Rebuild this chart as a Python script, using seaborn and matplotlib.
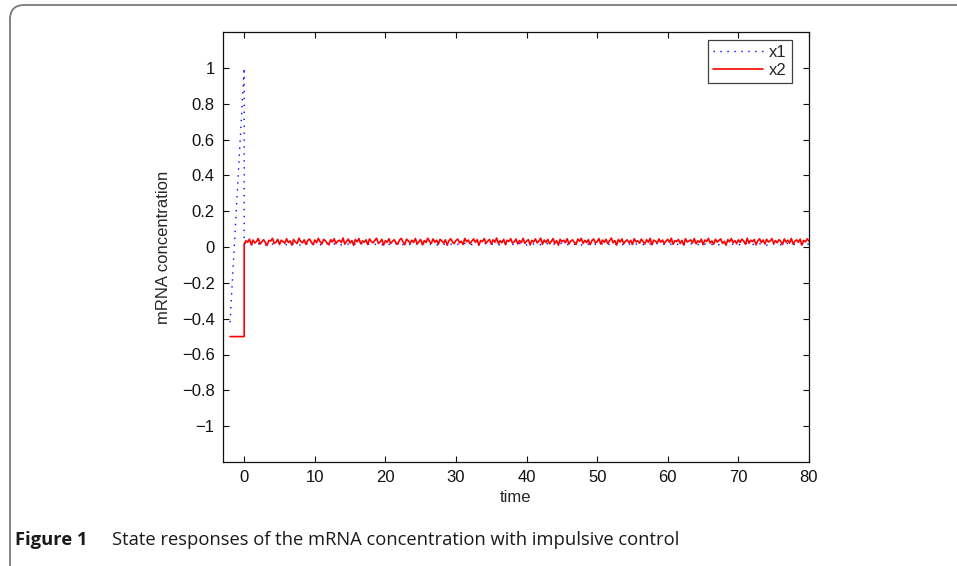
import numpy as np
import pandas as pd
import matplotlib
matplotlib.use("Agg")
import matplotlib.pyplot as plt
from matplotlib.patches import FancyBboxPatch
import seaborn as sns

# --- data ---
# history segment (t in [-2, 0])
hist_t = [-2.0, 0.0]
x1_hist = [-0.42, 1.0]
x2_hist = [-0.5, -0.5]

# after the impulse, x2 sampled every 0.25 time units
x2_step = 0.25
x2_noise = [
    0.018, 0.035, 0.027, 0.044, 0.012, 0.039, 0.022, 0.031, 0.047, 0.016, 0.029, 0.041, 0.024, 0.010, 0.037, 0.033, 0.048, 0.020, 0.026, 0.043,
    0.014, 0.038, 0.030, 0.021, 0.046, 0.025, 0.034, 0.011, 0.042, 0.028, 0.019, 0.049, 0.032, 0.023, 0.040, 0.015, 0.036, 0.045, 0.027, 0.013,
    0.039, 0.024, 0.048, 0.030, 0.017, 0.043, 0.035, 0.021, 0.012, 0.041, 0.028, 0.046, 0.019, 0.033, 0.038, 0.025, 0.050, 0.016, 0.031, 0.044,
    0.022, 0.036, 0.010, 0.042, 0.029, 0.047, 0.018, 0.034, 0.026, 0.040, 0.014, 0.045, 0.031, 0.023, 0.037, 0.049, 0.020, 0.028, 0.043, 0.011,
    0.035, 0.027, 0.046, 0.019, 0.032, 0.041, 0.024, 0.015, 0.039, 0.048, 0.029, 0.013, 0.044, 0.034, 0.021, 0.038, 0.026, 0.047, 0.017, 0.030,
    0.042, 0.012, 0.036, 0.025, 0.049, 0.031, 0.020, 0.045, 0.027, 0.038, 0.016, 0.043, 0.033, 0.022, 0.040, 0.010, 0.035, 0.046, 0.028, 0.019,
    0.037, 0.044, 0.023, 0.032, 0.014, 0.048, 0.029, 0.039, 0.018, 0.034, 0.045, 0.026, 0.041, 0.011, 0.036, 0.030, 0.047, 0.021, 0.033, 0.042,
    0.016, 0.040, 0.027, 0.050, 0.019, 0.035, 0.024, 0.043, 0.013, 0.038, 0.031, 0.046, 0.022, 0.029, 0.044, 0.017, 0.036, 0.025, 0.048, 0.020,
    0.033, 0.041, 0.012, 0.037, 0.028, 0.045, 0.023, 0.034, 0.049, 0.015, 0.039, 0.026, 0.042, 0.018, 0.031, 0.047, 0.021, 0.036, 0.010, 0.043,
    0.029, 0.038, 0.024, 0.046, 0.017, 0.033, 0.040, 0.027, 0.014, 0.044, 0.032, 0.048, 0.020, 0.037, 0.025, 0.041, 0.013, 0.035, 0.045, 0.022,
    0.030, 0.047, 0.016, 0.039, 0.026, 0.043, 0.019, 0.034, 0.050, 0.023, 0.036, 0.011, 0.042, 0.028, 0.045, 0.018, 0.032, 0.040, 0.024, 0.037,
    0.014, 0.046, 0.029, 0.035, 0.021, 0.044, 0.031, 0.017, 0.041, 0.026, 0.048, 0.012, 0.038, 0.033, 0.022, 0.045, 0.027, 0.039, 0.019, 0.034,
    0.043, 0.025, 0.049, 0.015, 0.036, 0.030, 0.042, 0.020, 0.037, 0.011, 0.046, 0.028, 0.033, 0.040, 0.023, 0.047, 0.018, 0.035, 0.026, 0.044,
    0.013, 0.039, 0.031, 0.048, 0.022, 0.034, 0.016, 0.043, 0.027, 0.037, 0.045, 0.020, 0.032, 0.010, 0.041, 0.029, 0.047, 0.024, 0.036, 0.018,
    0.040, 0.026, 0.044, 0.033, 0.015, 0.049, 0.021, 0.038, 0.030, 0.042, 0.012, 0.035, 0.046, 0.025, 0.039, 0.017, 0.043, 0.028, 0.034, 0.047,
    0.019, 0.036, 0.024, 0.041, 0.031, 0.014, 0.045, 0.027, 0.038, 0.022, 0.048, 0.016, 0.033, 0.040, 0.026, 0.044, 0.011, 0.037, 0.029, 0.046,
    0.032,
]

# x1 sits just under x2, sampled every 1 time unit
x1_step = 1.0
x1_noise = [
    0.020, 0.014, 0.018, 0.011, 0.016, 0.021, 0.013, 0.017, 0.010, 0.019, 0.015, 0.012, 0.020, 0.016, 0.011, 0.018, 0.014, 0.021, 0.013, 0.017,
    0.010, 0.019, 0.015, 0.012, 0.018, 0.016, 0.020, 0.011, 0.014, 0.017, 0.013, 0.021, 0.015, 0.010, 0.019, 0.016, 0.012, 0.018, 0.014, 0.020,
    0.011, 0.017, 0.013, 0.019, 0.015, 0.021, 0.012, 0.016, 0.010, 0.018, 0.014, 0.020, 0.013, 0.017, 0.011, 0.019, 0.015, 0.012, 0.021, 0.016,
    0.014, 0.018, 0.010, 0.020, 0.013, 0.017, 0.015, 0.011, 0.019, 0.016, 0.012, 0.021, 0.014, 0.018, 0.010, 0.017, 0.013, 0.020, 0.015, 0.019,
    0.016,
]

yticks = [-1, -0.8, -0.6, -0.4, -0.2, 0, 0.2, 0.4, 0.6, 0.8, 1]
ytick_labels = ["\u22121", "\u22120.8", "\u22120.6", "\u22120.4", "\u22120.2", "0",
                "0.2", "0.4", "0.6", "0.8", "1"]
xticks = [0, 10, 20, 30, 40, 50, 60, 70, 80]

# --- build tidy frames ---
x1_t = hist_t + list(np.arange(len(x1_noise)) * x1_step)
x2_t = hist_t + list(np.arange(len(x2_noise)) * x2_step)
df1 = pd.DataFrame({"time": x1_t, "value": x1_hist + x1_noise})
df2 = pd.DataFrame({"time": x2_t, "value": x2_hist + x2_noise})

# --- style ---
sns.set_style("ticks")
plt.rcParams["font.family"] = ["Liberation Sans", "DejaVu Sans"]
plt.rcParams["xtick.direction"] = "in"
plt.rcParams["ytick.direction"] = "in"

fig = plt.figure(figsize=(9.57, 5.66), dpi=100)
W, H = 957, 566
ax = fig.add_axes([223 / W, 1 - 462 / H, (809 - 223) / W, (462 - 32) / H])

sns.lineplot(data=df1, x="time", y="value", ax=ax, estimator=None, sort=False,
             color="#0000ff", linewidth=1.0, label="x1")
ax.lines[-1].set_dashes((1, 4))
sns.lineplot(data=df2, x="time", y="value", ax=ax, estimator=None, sort=False,
             color="#ff0000", linewidth=1.2, label="x2")

ax.set_xlim(-3, 80)
ax.set_ylim(-1.2, 1.2)
ax.set_xticks(xticks)
ax.set_yticks(yticks)
ax.set_yticklabels(ytick_labels)
ax.tick_params(labelsize=12, length=4, width=0.8, pad=6, colors="#111111",
               top=True, right=True)
for s in ax.spines.values():
    s.set_visible(True)
    s.set_linewidth(0.9)
    s.set_color("#111111")
ax.set_xlabel("time", fontsize=12, labelpad=3)
ax.set_ylabel("mRNA concentration", fontsize=12, labelpad=8)

leg = ax.legend(loc="upper right", bbox_to_anchor=((792 - 223) / 586, (462 - 40) / 430),
                fontsize=12, frameon=True, fancybox=False,
                handlelength=3.0, borderaxespad=0, borderpad=0.3,
                labelspacing=0.2, handletextpad=0.4)
leg.get_frame().set_edgecolor("#111111")
leg.get_frame().set_linewidth(0.9)
leg.legend_handles[0].set_dashes((1, 4))

# rounded panel frame of the article figure
frame = FancyBboxPatch((10 / W, -20 / H), 1.2, (566 - 5 + 20) / H,
                       boxstyle="round,pad=0,rounding_size=0.015",
                       transform=fig.transFigure, fill=False,
                       edgecolor="#7a7a7a", linewidth=1.3, clip_on=False,
                       mutation_aspect=W / H)
fig.patches.append(frame)

# caption
fig.text(15 / W, 1 - 545 / H, "Figure 1", fontsize=13.2, fontweight="bold",
         family=["Open Sans", "DejaVu Sans"], va="baseline", ha="left", color="#1a1a1a")
fig.text(112 / W, 1 - 545 / H,
         "State responses of the mRNA concentration with impulsive control",
         fontsize=13.2, family=["Open Sans", "DejaVu Sans"], va="baseline",
         ha="left", color="#1a1a1a")

fig.savefig("out.png", dpi=100)
